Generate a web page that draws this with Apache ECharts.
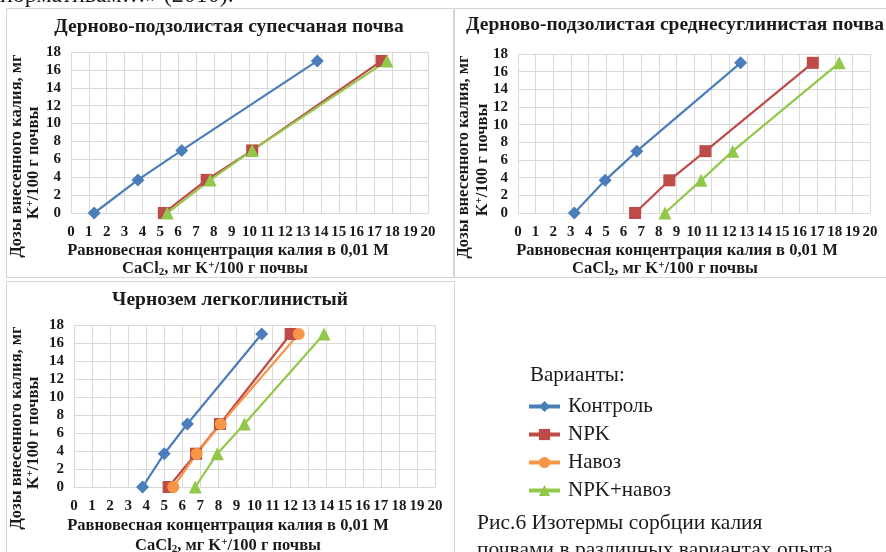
<!DOCTYPE html>
<html>
<head>
<meta charset="utf-8">
<script src="https://cdn.jsdelivr.net/npm/echarts@6/dist/echarts.min.js"></script>
<style>
  html, body { margin: 0; padding: 0; background: #fff; }
  #chart { width: 886px; height: 552px; }
</style>
</head>
<body>
<div id="chart"></div>
<script>
// Applied potassium doses, mg K+/100 g soil (y values, shared by all variants)
const doses = [0, 3.7, 7, 17];

// Equilibrium K concentration in 0.01 M CaCl2, mg K+/100 g soil (x values)
// Sod-podzolic sandy loam soil
const sandyControl = [1.3, 3.75, 6.2, 13.8];
const sandyNPK = [5.2, 7.6, 10.15, 17.4];
const sandyNPKManure = [5.4, 7.8, 10.15, 17.7];

// Sod-podzolic medium loam soil
const loamControl = [3.2, 4.95, 6.75, 12.65];
const loamNPK = [6.65, 8.6, 10.65, 16.75];
const loamNPKManure = [8.35, 10.4, 12.2, 18.25];

// Light clay chernozem
const chernControl = [3.8, 5.0, 6.28, 10.4];
const chernNPK = [5.24, 6.76, 8.09, 12.0];
const chernManure = [5.5, 6.8, 8.13, 12.45];
const chernNPKManure = [6.72, 7.94, 9.44, 13.85];

const panelTitles = [
  'Дерново-подзолистая супесчаная почва',
  'Дерново-подзолистая среднесуглинистая почва',
  'Чернозем легкоглинистый'
];
const variantNames = ['Контроль', 'NPK', 'Навоз', 'NPK+навоз'];
const xNameLine1 = 'Равновесная концентрация калия в 0,01 М';
const xNameLine2 = 'CaCl{sub|2}, мг K{sup|+}/100 г почвы';
const yNameLine1 = 'Дозы внесенного калия, мг';
const yNameLine2 = 'K{sup|+}/100 г почвы';

const SERIF = '"Liberation Serif", "DejaVu Serif", serif';
const TXT = '#1a1a1a';
const variantStyle = {
  'Контроль':  { color: '#4a7ebb', symbol: 'diamond',  size: 13 },
  'NPK':       { color: '#be4b48', symbol: 'rect',     size: 12 },
  'Навоз':     { color: '#f79646', symbol: 'circle',   size: 12 },
  'NPK+навоз': { color: '#92c84a', symbol: 'triangle', size: 13 }
};

const grids = [
  { left: 71, top: 52, width: 357, height: 161 },
  { left: 518, top: 54, width: 352, height: 159 },
  { left: 74, top: 325, width: 361, height: 162 }
];

function axisPair(i) {
  const axisLabel = { fontFamily: SERIF, fontWeight: 'bold', fontSize: 15, color: TXT };
  const split = { show: true, lineStyle: { color: '#d9d9d9', width: 1 } };
  return {
    x: {
      type: 'value', gridIndex: i, min: 0, max: 20, interval: 1,
      axisLine: { show: true, onZero: false, lineStyle: { color: '#d9d9d9' } },
      axisTick: { show: false },
      splitLine: split,
      axisLabel: Object.assign({ margin: 12 }, axisLabel)
    },
    y: {
      type: 'value', gridIndex: i, min: 0, max: 18, interval: 2,
      axisLine: { show: true, lineStyle: { color: '#d9d9d9' } },
      axisTick: { show: false },
      splitLine: split,
      axisLabel: Object.assign({ margin: 10 }, axisLabel)
    }
  };
}

const xAxes = [], yAxes = [];
for (let i = 0; i < 3; i++) {
  const p = axisPair(i);
  xAxes.push(p.x);
  yAxes.push(p.y);
}

function makeSeries(name, xs, gridIdx) {
  const st = variantStyle[name];
  return {
    name: name,
    type: 'line',
    xAxisIndex: gridIdx,
    yAxisIndex: gridIdx,
    data: xs.map((x, k) => [x, doses[k]]),
    symbol: st.symbol,
    symbolSize: st.size,
    showSymbol: true,
    itemStyle: { color: st.color },
    lineStyle: { color: st.color, width: 2.2 },
    emphasis: { disabled: true },
    z: 3
  };
}

const series = [
  makeSeries('Контроль', sandyControl, 0),
  makeSeries('NPK', sandyNPK, 0),
  makeSeries('NPK+навоз', sandyNPKManure, 0),
  makeSeries('Контроль', loamControl, 1),
  makeSeries('NPK', loamNPK, 1),
  makeSeries('NPK+навоз', loamNPKManure, 1),
  makeSeries('Контроль', chernControl, 2),
  makeSeries('NPK', chernNPK, 2),
  makeSeries('Навоз', chernManure, 2),
  makeSeries('NPK+навоз', chernNPKManure, 2)
];

const richSub = {
  sub: { fontSize: 11, fontWeight: 'bold', fontFamily: SERIF, fill: TXT, verticalAlign: 'bottom', padding: [7, 0, 0, 0] },
  sup: { fontSize: 11, fontWeight: 'bold', fontFamily: SERIF, fill: TXT, verticalAlign: 'top', padding: [0, 0, 7, 0] }
};

function label(text, x, y, opts) {
  opts = opts || {};
  return {
    type: 'text', x: x, y: y, rotation: opts.rotation || 0, silent: true,
    style: {
      text: text,
      fill: TXT,
      font: (opts.weight || 'bold') + ' ' + (opts.size || 16.5) + 'px ' + SERIF,
      align: opts.align || 'center',
      verticalAlign: opts.valign || 'middle',
      rich: opts.rich
    }
  };
}

function rect(x, y, w, h) {
  return {
    type: 'rect', silent: true, z: -1,
    shape: { x: x, y: y, width: w, height: h },
    style: { fill: 'none', stroke: '#d3d3d3', lineWidth: 1 }
  };
}

const graphics = [
  // panel frames
  rect(6.5, 8.5, 447, 269),
  rect(454.5, 8.5, 440, 269),
  rect(6.5, 281.5, 448, 280),
  // running text of the page above the figure
  label('нормативам…» (2010).', 0, 8, { weight: 'normal', size: 24, align: 'left', valign: 'bottom' }),
  // panel titles
  label(panelTitles[0], 229, 27, { size: 19.5 }),
  label(panelTitles[1], 675, 25, { size: 19.5 }),
  label(panelTitles[2], 230, 300, { size: 19.5 }),
  // y axis names
  label(yNameLine1, 17, 156, { rotation: Math.PI / 2 }),
  label(yNameLine2, 34, 163, { rotation: Math.PI / 2, rich: richSub }),
  label(yNameLine1, 464, 157, { rotation: Math.PI / 2 }),
  label(yNameLine2, 483, 160, { rotation: Math.PI / 2, rich: richSub }),
  label(yNameLine1, 17, 428, { rotation: Math.PI / 2 }),
  label(yNameLine2, 34, 433, { rotation: Math.PI / 2, rich: richSub }),
  // x axis names
  label(xNameLine1, 228, 251),
  label(xNameLine2, 215, 269, { rich: richSub }),
  label(xNameLine1, 677, 251),
  label(xNameLine2, 665, 269, { rich: richSub }),
  label(xNameLine1, 228, 526),
  label(xNameLine2, 228, 546, { rich: richSub }),
  // legend heading and figure caption
  label('Варианты:', 530, 375, { weight: 'normal', size: 21, align: 'left' }),
  label('Рис.6 Изотермы сорбции калия', 477, 523, { weight: 'normal', size: 21.5, align: 'left' }),
  label('почвами в различных вариантах опыта', 477, 550, { weight: 'normal', size: 21.5, align: 'left' })
];

const chart = echarts.init(document.getElementById('chart'), null, { renderer: 'canvas' });
chart.setOption({
  animation: false,
  backgroundColor: '#ffffff',
  grid: grids.map(g => Object.assign({ outerBoundsMode: 'none', containLabel: false, show: false }, g)),
  xAxis: xAxes,
  yAxis: yAxes,
  legend: {
    data: variantNames,
    orient: 'vertical',
    left: 522,
    top: 391,
    itemWidth: 31,
    itemHeight: 14,
    itemGap: 7,
    selectedMode: false,
    lineStyle: { width: 4 },
    textStyle: { fontFamily: SERIF, fontSize: 21, color: TXT, padding: [0, 0, 0, 3] }
  },
  series: series,
  graphic: graphics
});
</script>
</body>
</html>
